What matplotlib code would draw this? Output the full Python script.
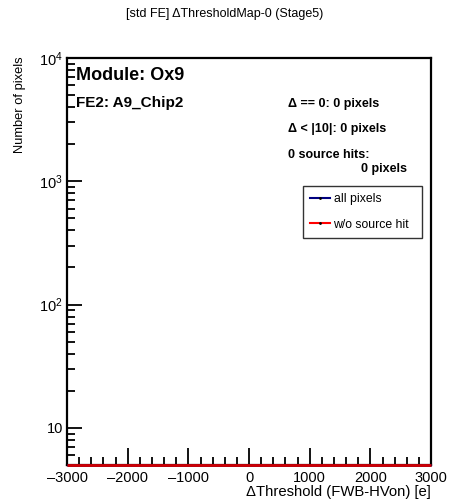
import numpy as np
import matplotlib
matplotlib.use("Agg")
import matplotlib.pyplot as plt
from matplotlib.ticker import MultipleLocator, FuncFormatter, LogLocator

plt.rcParams['font.family'] = ['Liberation Sans', 'DejaVu Sans']
plt.rcParams['mathtext.fontset'] = 'custom'
plt.rcParams['mathtext.rm'] = 'Liberation Sans'
plt.rcParams['mathtext.it'] = 'Liberation Sans:italic'

# histogram data (all bins empty)
bin_edges = np.linspace(-3000, 3000, 61)
all_pixels = np.zeros(60)
wo_source_hit = np.zeros(60)

y_min, y_max = 5, 1e4
info_lines = ["\u0394 == 0: 0 pixels", "\u0394 < |10|: 0 pixels", "0 source hits:"]

fig = plt.figure(figsize=(4.5, 5.04), dpi=100)
ax = fig.add_axes([0.149, 0.0774, 0.809, 0.8076])

# ROOT draws empty bins on the lower edge of a log axis
ax.stairs(np.clip(all_pixels, y_min, None), bin_edges, baseline=None,
          color='navy', lw=2, clip_on=False, zorder=5)
ax.stairs(np.clip(wo_source_hit, y_min, None), bin_edges, baseline=None,
          color='#d00000', lw=2, clip_on=False, zorder=6)

ax.set_yscale('log')
ax.set_xlim(-3000, 3000)
ax.set_ylim(y_min, y_max)

ax.xaxis.set_major_locator(MultipleLocator(1000))
ax.xaxis.set_minor_locator(MultipleLocator(200))
ax.yaxis.set_major_locator(LogLocator(base=10))
ax.yaxis.set_minor_locator(LogLocator(base=10, subs=np.arange(2, 10)))
ax.yaxis.set_minor_formatter(plt.NullFormatter())
ax.yaxis.set_major_formatter(FuncFormatter(
    lambda v, p: "10" if abs(v - 10) < 1e-6 else r"$10^{%d}$" % round(np.log10(v))))
ax.xaxis.set_major_formatter(FuncFormatter(lambda v, p: ("%d" % v).replace("-", "\u2013")))

ax.tick_params(axis='x', which='major', direction='in', length=12, width=1.3, labelsize=10.5, pad=4)
ax.tick_params(axis='x', which='minor', direction='in', length=6, width=1.3)
ax.tick_params(axis='y', which='major', direction='in', length=11, width=1.3, labelsize=10.5, pad=3)
ax.tick_params(axis='y', which='minor', direction='in', length=6, width=1.3)
for s in ax.spines.values():
    s.set_linewidth(1.6)

fig.text(0.5, 0.972, "[std FE] \u0394ThresholdMap-0 (Stage5)", ha='center', va='center', fontsize=9)
ax.set_xlabel("\u0394Threshold (FWB-HVon) [e]", fontsize=10.7, loc='right', labelpad=0)
ax.set_ylabel("Number of pixels", fontsize=9.3, ha='right')
ax.yaxis.set_label_coords(-0.113, 1.005)

ax.text(0.025, 0.956, "Module: Ox9", transform=ax.transAxes, fontsize=13, fontweight='bold', va='center')
ax.text(0.025, 0.889, "FE2: A9_Chip2", transform=ax.transAxes, fontsize=11, fontweight='bold', va='center')
for i, t in enumerate(info_lines):
    ax.text(0.608, 0.887 - i * 0.0625, t, transform=ax.transAxes, fontsize=9, fontweight='bold', va='center')
ax.text(0.934, 0.727, "0 pixels", transform=ax.transAxes, fontsize=9, fontweight='bold', va='center', ha='right')

h1, = ax.plot([], [], color='navy', lw=1.5, marker='.', ms=2, mfc='k', mec='k')
h2, = ax.plot([], [], color='red', lw=1.5, marker='.', ms=2, mfc='k', mec='k')
leg = ax.legend([h1, h2], ["all pixels", "w/o source hit"], loc='upper left',
                bbox_to_anchor=(0.648, 0.561, 0.327, 0.125), mode='expand', fontsize=8.8,
                frameon=True, fancybox=False, borderaxespad=0,
                handlelength=1.6, handletextpad=0.3, borderpad=0.6, labelspacing=1.1)
leg.get_frame().set_edgecolor('black')
leg.get_frame().set_linewidth(1.0)

fig.savefig("out.png", dpi=100)
